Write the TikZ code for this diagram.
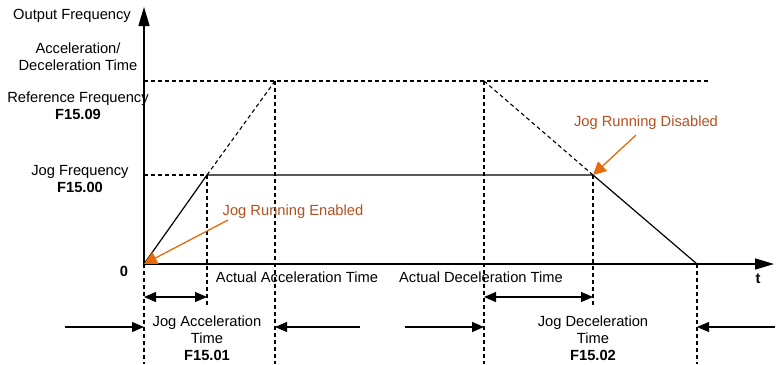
\documentclass[tikz,border=0pt]{standalone}
\usepackage{fontspec}
\setmainfont{Liberation Sans}
\usetikzlibrary{arrows.meta}
\definecolor{jogtext}{HTML}{B4501E}
\definecolor{jogarrow}{HTML}{E46C0A}
\tikzset{
  axis/.style={line width=1.4pt, -{Triangle[length=19pt,width=11pt]}},
  curve/.style={line width=1.2pt},
  guide/.style={line width=1.1pt, dash pattern=on 4pt off 3pt},
  span/.style={line width=1.1pt, {Triangle[length=12pt,width=10pt]}-{Triangle[length=12pt,width=10pt]}},
  pointer/.style={line width=1.1pt, -{Triangle[length=12pt,width=10pt]}},
  callout/.style={jogarrow, line width=1.3pt, -{Triangle[length=13pt,width=13pt]}},
  lbl/.style={align=center, inner sep=0pt, font=\fontsize{14.7}{16.8}\selectfont},
}
\begin{document}
\begin{tikzpicture}[x=1pt, y=-1pt]
    \useasboundingbox (0,0) rectangle (784,364);

    % key points of the jog profile
    \coordinate (O) at (144,264);
    \coordinate (ytop) at (144,7);
    \coordinate (xend) at (774,264);
    \coordinate (jogA) at (207,175);
    \coordinate (refA) at (275,81);
    \coordinate (refD) at (484,81);
    \coordinate (jogD) at (593,175);
    \coordinate (stop) at (697,264);
    \coordinate (refEnd) at (710,81);
    \coordinate (jogLeft) at (144,175);

    % axes
    \draw[axis] (O) -- (ytop);
    \draw[axis] (O) -- (xend);

    % profile
    \draw[curve] (O) -- (jogA) -- (jogD) -- (stop);
    \draw[guide] (jogA) -- (refA);
    \draw[guide] (refD) -- (jogD);
    \draw[guide] (O |- refA) -- (refEnd);
    \draw[guide] (jogLeft) -- (jogA);

    % vertical guides
    \coordinate (b0) at (144,364);
    \coordinate (b1) at (207,306);
    \coordinate (b2) at (275,364);
    \coordinate (b3) at (484,364);
    \coordinate (b4) at (593,306);
    \coordinate (b5) at (697,364);
    \draw[guide] (O) -- (b0);
    \draw[guide] (jogA) -- (b1);
    \draw[guide] (refA) -- (b2);
    \draw[guide] (refD) -- (b3);
    \draw[guide] (jogD) -- (b4);
    \draw[guide] (stop) -- (b5);

    % jog time spans
    \coordinate (sa1) at (144,297);
    \coordinate (sa2) at (207,297);
    \coordinate (sd1) at (484,297);
    \coordinate (sd2) at (593,297);
    \draw[span] (sa1) -- (sa2);
    \draw[span] (sd1) -- (sd2);

    % actual time markers
    \coordinate (p1) at (65,327);
    \coordinate (q1) at (144,327);
    \coordinate (p2) at (360,327);
    \coordinate (q2) at (275,327);
    \coordinate (p3) at (405,327);
    \coordinate (q3) at (484,327);
    \coordinate (p4) at (775,327);
    \coordinate (q4) at (697,327);
    \draw[pointer] (p1) -- (q1);
    \draw[pointer] (p2) -- (q2);
    \draw[pointer] (p3) -- (q3);
    \draw[pointer] (p4) -- (q4);

    % axis labels
    \node[lbl] (outfreq) at (72,16) {Output Frequency};
    \node[lbl] (accdec) at (78,57) {Acceleration/\\Deceleration Time};
    \node[lbl] (reffreq) at (78,106) {Reference Frequency\\\textbf{F15.09}};
    \node[lbl] (jogfreq) at (80,179) {Jog Frequency\\\textbf{F15.00}};
    \node[lbl] (zero) at (124,271) {\textbf{0}};
    \node[lbl] (tlbl) at (758,279) {\textbf{t}};

    % time labels
    \node[lbl] (actacc) at (297,277) {Actual Acceleration Time};
    \node[lbl] (actdec) at (481,277) {Actual Deceleration Time};
    \node[lbl] (jogacc) at (207,338) {Jog Acceleration\\Time\\\textbf{F15.01}};
    \node[lbl] (jogdec) at (593,338) {Jog Deceleration\\Time\\\textbf{F15.02}};

    % jog run callouts
    \node[lbl, text=jogtext] (enabled) at (293,212) {Jog Running Enabled};
    \node[lbl, text=jogtext] (disabled) at (646,123) {Jog Running Disabled};
    \coordinate (enTail) at (228,220);
    \coordinate (disTail) at (636,135);
    \draw[callout] (enTail) -- (O);
    \draw[callout] (disTail) -- (jogD);
\end{tikzpicture}
\end{document}
